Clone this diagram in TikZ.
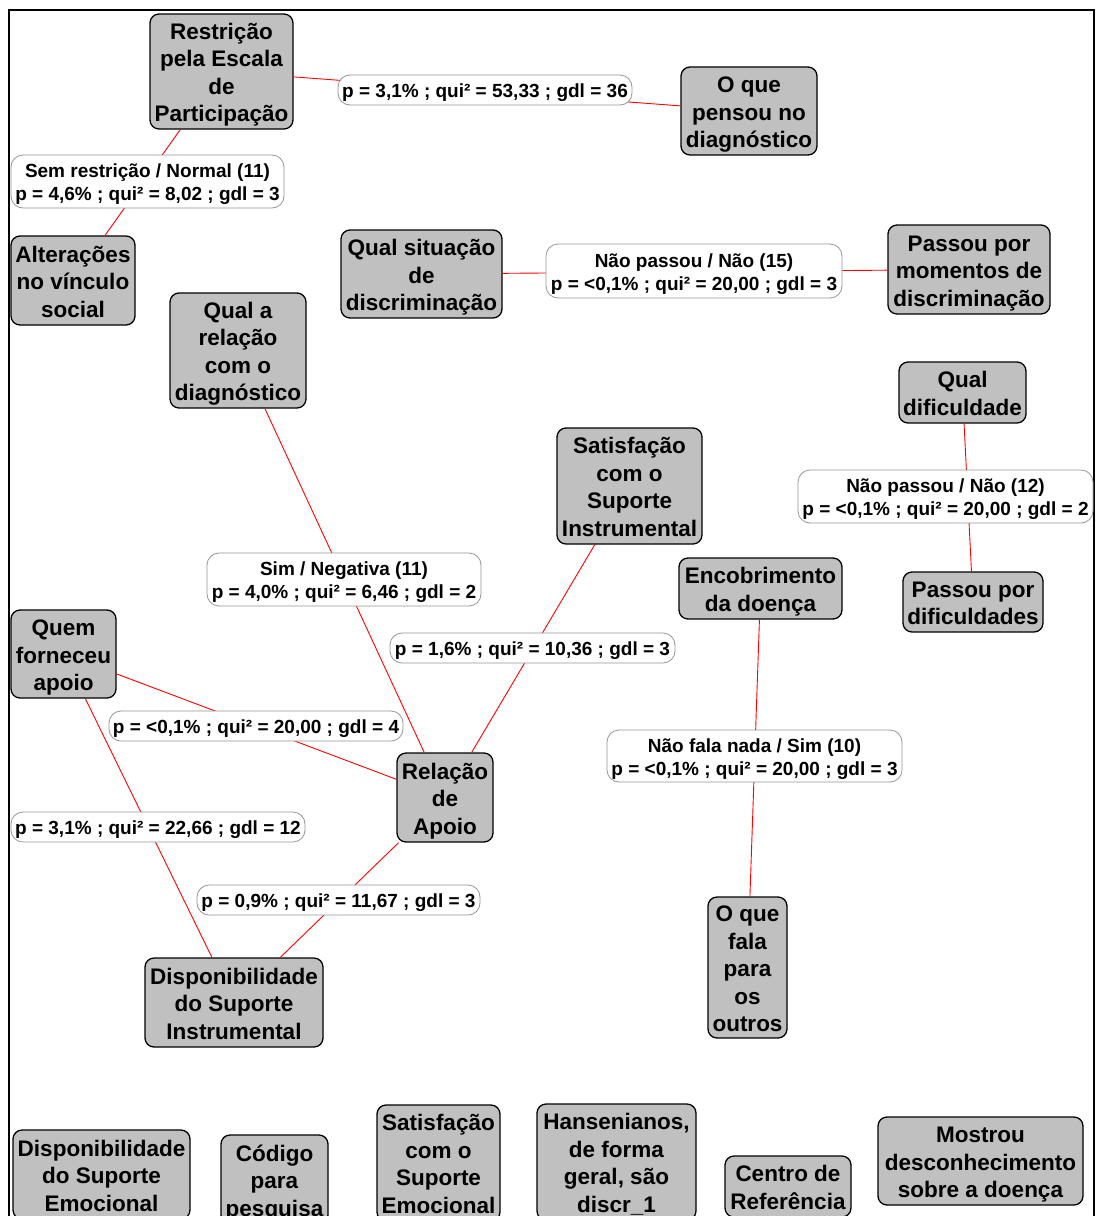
\documentclass[tikz,border=0pt]{standalone}
\usepackage{fontspec}
\setmainfont{Liberation Sans}
\definecolor{boxgray}{RGB}{192,192,192}
\definecolor{lblgray}{RGB}{150,150,150}
\newcommand\bt[1]{\rule{0pt}{24pt}#1\rule[-6pt]{0pt}{0pt}}
\newcommand\lt[1]{\rule{0pt}{20pt}#1\rule[-4.2pt]{0pt}{0pt}}
\begin{document}
\begin{tikzpicture}[x=1pt,y=-1pt,
  box/.style={draw=black,line width=1.3pt,fill=boxgray,rounded corners=9pt,align=center,inner sep=0pt,font=\fontsize{22.5}{27.5}\selectfont\bfseries},
  lbl/.style={draw=lblgray,line width=0.8pt,fill=white,rounded corners=12pt,align=center,inner sep=0pt,font=\fontsize{19}{23}\selectfont\bfseries},
  conn/.style={draw=red,line width=0.9pt}]
\useasboundingbox (0,0) rectangle (1096,1216);
\fill[white] (0,0) rectangle (1096,1216);
\draw[line width=2.5pt] (9,1240) -- (9,10) -- (1094,10) -- (1094,1240);

% boxes
\node[box,minimum width=143pt,minimum height=115pt] (restr) at (221.5,71.5) {\bt{Restrição\\pela Escala\\de\\Participação}};
\node[box,minimum width=136pt,minimum height=88pt] (opens) at (749,111) {\bt{O que\\pensou no\\diagnóstico}};
\node[box,minimum width=124pt,minimum height=89pt] (alt) at (73,280.5) {\bt{Alterações\\no vínculo\\social}};
\node[box,minimum width=161pt,minimum height=88pt] (qsit) at (421.5,274) {\bt{Qual situação\\de\\discriminação}};
\node[box,minimum width=162pt,minimum height=89pt] (pmd) at (969,269.5) {\bt{Passou por\\momentos de\\discriminação}};
\node[box,minimum width=136pt,minimum height=115pt] (qrel) at (238,350.5) {\bt{Qual a\\relação\\com o\\diagnóstico}};
\node[box,minimum width=145pt,minimum height=116pt] (ssi) at (629.5,486) {\bt{Satisfação\\com o\\Suporte\\Instrumental}};
\node[box,minimum width=96pt,minimum height=89pt] (rel) at (445,797.5) {\bt{Relação\\de\\Apoio}};
\node[box,minimum width=105pt,minimum height=88pt] (quem) at (63.5,654) {\bt{Quem\\forneceu\\apoio}};
\node[box,minimum width=178pt,minimum height=89pt] (dsi) at (234,1002.5) {\bt{Disponibilidade\\do Suporte\\Instrumental}};
\node[box,minimum width=127pt,minimum height=61pt] (qdif) at (962.5,392.5) {\bt{Qual\\dificuldade}};
\node[box,minimum width=140pt,minimum height=60pt] (pdif) at (973,602) {\bt{Passou por\\dificuldades}};
\node[box,minimum width=163pt,minimum height=61pt] (enc) at (760.5,588.5) {\bt{Encobrimento\\da doença}};
\node[box,minimum width=79pt,minimum height=141pt] (ofala) at (747.5,967.5) {\bt{O que\\fala\\para\\os\\outros}};
% bottom row
\node[box,minimum width=177pt,minimum height=89pt] (dse) at (101.5,1174.5) {\bt{Disponibilidade\\do Suporte\\Emocional}};
\node[box,minimum width=107pt,minimum height=89pt] (cod) at (274.5,1179.5) {\bt{Código\\para\\pesquisa}};
\node[box,minimum width=123pt,minimum height=116pt] (sse) at (438.5,1163) {\bt{Satisfação\\com o\\Suporte\\Emocional}};
\node[box,minimum width=159pt,minimum height=116pt] (hans) at (616.5,1162) {\bt{Hansenianos,\\de forma\\geral, são\\discr\_1}};
\node[box,minimum width=126pt,minimum height=61pt] (cref) at (788,1186.5) {\bt{Centro de\\Referência}};
\node[box,minimum width=205pt,minimum height=88pt] (most) at (980.5,1161) {\bt{Mostrou\\desconhecimento\\sobre a doença}};

% connectors (box to box, labels sit on top)
\draw[conn] (restr) -- (opens);
\draw[conn] (restr) -- (alt);
\draw[conn] (qsit) -- (pmd);
\draw[conn] (qrel) -- (rel);
\draw[conn] (ssi) -- (rel);
\draw[conn] (quem) -- (rel);
\draw[conn] (quem) -- (dsi);
\draw[conn] (rel) -- (dsi);
\draw[conn] (qdif) -- (pdif);
\draw[conn] (enc) -- (ofala);

% labels
\node[lbl,minimum width=294pt,minimum height=30pt] (l1) at (485,90) {\lt{p = 3,1\% ; qui² = 53,33 ; gdl = 36}};
\node[lbl,minimum width=273pt,minimum height=53pt] (l2) at (147.5,181.5) {\lt{Sem restrição / Normal (11)\\p = 4,6\% ; qui² = 8,02 ; gdl = 3}};
\node[lbl,minimum width=296pt,minimum height=54pt] (l3) at (694,271) {\lt{Não passou / Não (15)\\p = <0,1\% ; qui² = 20,00 ; gdl = 3}};
\node[lbl,minimum width=274pt,minimum height=53pt] (l4) at (344,579.5) {\lt{Sim / Negativa (11)\\p = 4,0\% ; qui² = 6,46 ; gdl = 2}};
\node[lbl,minimum width=285pt,minimum height=30pt] (l5) at (532.5,648) {\lt{p = 1,6\% ; qui² = 10,36 ; gdl = 3}};
\node[lbl,minimum width=294pt,minimum height=30pt] (l6) at (256,726) {\lt{p = <0,1\% ; qui² = 20,00 ; gdl = 4}};
\node[lbl,minimum width=294pt,minimum height=30pt] (l7) at (158,827) {\lt{p = 3,1\% ; qui² = 22,66 ; gdl = 12}};
\node[lbl,minimum width=283pt,minimum height=30pt] (l8) at (338.5,900) {\lt{p = 0,9\% ; qui² = 11,67 ; gdl = 3}};
\node[lbl,minimum width=295pt,minimum height=53pt] (l9) at (945.5,496.5) {\lt{Não passou / Não (12)\\p = <0,1\% ; qui² = 20,00 ; gdl = 2}};
\node[lbl,minimum width=295pt,minimum height=52pt] (l10) at (754.5,756) {\lt{Não fala nada / Sim (10)\\p = <0,1\% ; qui² = 20,00 ; gdl = 3}};
\end{tikzpicture}
\end{document}
